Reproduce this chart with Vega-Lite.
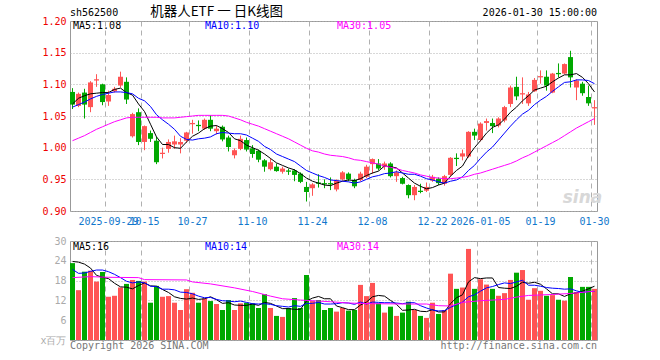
{
"$schema":"https://vega.github.io/schema/vega-lite/v6.json",
"autosize":{"type":"pad"},
"padding":{"left":39,"top":4,"right":5,"bottom":5},
"background":"white",
"bounds":"flush",
"spacing":30,
"config":{
 "view":{"stroke":"#999999","strokeWidth":1},
 "axis":{"labelFont":"DejaVu Sans Mono","labelFontSize":10,"ticks":false,"domain":false,"gridColor":"#b0b0b0","gridOpacity":1,"labelPadding":4,"labelOverlap":false},
 "text":{"font":"DejaVu Sans Mono","fontSize":10,"baseline":"middle"}
},
"datasets":{
"k":[
{"d":"2025-09-19","o":1.088,"h":1.094,"l":1.061,"c":1.068,"v":23.3,"m5":1.069,"m10":1.064,"m30":1.011,"v5":23.8,"v10":21.4,"v30":18.9},
{"d":"2025-09-22","o":1.066,"h":1.087,"l":1.064,"c":1.085,"v":15.1,"m5":1.078,"m10":1.068,"m30":1.015,"v5":23.6,"v10":20.2},
{"d":"2025-09-23","o":1.087,"h":1.093,"l":1.046,"c":1.068,"v":20.7,"m5":1.082,"m10":1.072,"m30":1.019,"v5":23.0,"v10":20.3},
{"d":"2025-09-24","o":1.064,"h":1.105,"l":1.056,"c":1.103,"v":21.0,"m5":1.085,"m10":1.077,"m30":1.024,"v5":21.8,"v10":20.8,"v30":19.2},
{"d":"2025-09-25","o":1.106,"h":1.116,"l":1.096,"c":1.108,"v":17.7,"m5":1.086,"m10":1.081,"m30":1.029,"v5":19.6,"v10":21.2},
{"d":"2025-09-26","o":1.100,"h":1.101,"l":1.067,"c":1.072,"v":20.6,"m5":1.087,"m10":1.084,"m30":1.033,"v5":19.0,"v10":21.2},
{"d":"2025-09-29","o":1.073,"h":1.090,"l":1.066,"c":1.083,"v":13.1,"m5":1.087,"m10":1.086,"m30":1.037,"v5":18.6,"v10":20.7,"v30":19.0},
{"d":"2025-09-30","o":1.089,"h":1.096,"l":1.087,"c":1.093,"v":13.4,"m5":1.092,"m10":1.088,"m30":1.041,"v5":17.2,"v10":19.9},
{"d":"2025-10-09","o":1.098,"h":1.120,"l":1.095,"c":1.112,"v":15.9,"m5":1.094,"m10":1.088,"m30":1.044,"v5":16.1,"v10":18.9},
{"d":"2025-10-10","o":1.104,"h":1.111,"l":1.069,"c":1.076,"v":17.0,"m5":1.087,"m10":1.087,"m30":1.047,"v5":16.0,"v10":17.8},
{"d":"2025-10-13","o":1.018,"h":1.055,"l":1.016,"c":1.053,"v":18.2,"m5":1.083,"m10":1.085,"m30":1.048,"v5":15.5,"v10":17.3},
{"d":"2025-10-14","o":1.056,"h":1.062,"l":1.004,"c":1.009,"v":17.9,"m5":1.069,"m10":1.078,"m30":1.048,"v5":16.5,"v10":17.6,"v30":18.9},
{"d":"2025-10-15","o":1.009,"h":1.035,"l":0.996,"c":1.034,"v":17.7,"m5":1.057,"m10":1.074,"m30":1.048,"v5":17.3,"v10":17.3,"v30":18.3},
{"d":"2025-10-16","o":1.023,"h":1.027,"l":1.009,"c":1.014,"v":11.3,"m5":1.037,"m10":1.065,"m30":1.048,"v5":16.4,"v10":16.3},
{"d":"2025-10-17","o":1.011,"h":1.017,"l":0.974,"c":0.977,"v":16.4,"m5":1.017,"m10":1.052,"m30":1.048,"v5":16.3,"v10":16.2},
{"d":"2025-10-20","o":0.990,"h":1.000,"l":0.983,"c":0.992,"v":13.1,"m5":1.005,"m10":1.044,"m30":1.047,"v5":15.3,"v10":15.4},
{"d":"2025-10-21","o":0.998,"h":1.013,"l":0.992,"c":1.009,"v":13.3,"m5":1.005,"m10":1.037,"m30":1.047,"v5":14.4,"v10":15.4},
{"d":"2025-10-22","o":1.005,"h":1.019,"l":0.998,"c":1.010,"v":11.3,"m5":1.000,"m10":1.029,"m30":1.047,"v5":13.1,"v10":15.2},
{"d":"2025-10-23","o":1.005,"h":1.015,"l":0.991,"c":1.009,"v":9.1,"m5":0.999,"m10":1.018,"m30":1.048,"v5":12.6,"v10":14.5},
{"d":"2025-10-24","o":1.011,"h":1.025,"l":1.008,"c":1.024,"v":15.4,"m5":1.009,"m10":1.013,"m30":1.049,"v5":12.4,"v10":14.4,"v30":18.2},
{"d":"2025-10-27","o":1.037,"h":1.044,"l":1.022,"c":1.039,"v":14.3,"m5":1.018,"m10":1.012,"m30":1.050,"v5":12.7,"v10":14.0,"v30":17.6},
{"d":"2025-10-28","o":1.036,"h":1.043,"l":1.026,"c":1.034,"v":11.3,"m5":1.023,"m10":1.014,"m30":1.051,"v5":12.3,"v10":13.3},
{"d":"2025-10-29","o":1.030,"h":1.046,"l":1.028,"c":1.044,"v":12.6,"m5":1.030,"m10":1.015,"m30":1.051,"v5":12.5,"v10":12.8},
{"d":"2025-10-30","o":1.044,"h":1.051,"l":1.026,"c":1.030,"v":11.8,"m5":1.034,"m10":1.017,"m30":1.051,"v5":13.1,"v10":12.9,"v30":17.0},
{"d":"2025-10-31","o":1.026,"h":1.035,"l":1.021,"c":1.030,"v":10.9,"m5":1.035,"m10":1.022,"m30":1.051,"v5":12.2,"v10":12.3},
{"d":"2025-11-03","o":1.033,"h":1.035,"l":1.010,"c":1.013,"v":9.1,"m5":1.030,"m10":1.024,"m30":1.051,"v5":11.1,"v10":11.9},
{"d":"2025-11-04","o":1.016,"h":1.019,"l":0.994,"c":1.001,"v":12.1,"m5":1.024,"m10":1.023,"m30":1.050,"v5":11.3,"v10":11.8},
{"d":"2025-11-05","o":0.988,"h":0.999,"l":0.983,"c":0.996,"v":9.1,"m5":1.014,"m10":1.022,"m30":1.047,"v5":10.6,"v10":11.6,"v30":15.8},
{"d":"2025-11-06","o":0.998,"h":1.019,"l":0.996,"c":1.014,"v":11.1,"m5":1.011,"m10":1.022,"m30":1.044,"v5":10.5,"v10":11.8},
{"d":"2025-11-07","o":1.012,"h":1.016,"l":0.994,"c":0.997,"v":11.3,"m5":1.004,"m10":1.020,"m30":1.040,"v5":10.5,"v10":11.4},
{"d":"2025-11-10","o":0.999,"h":1.004,"l":0.984,"c":0.990,"v":11.1,"m5":1.000,"m10":1.015,"m30":1.037,"v5":10.9,"v10":11.0,"v30":14.7},
{"d":"2025-11-11","o":0.995,"h":0.997,"l":0.977,"c":0.981,"v":9.7,"m5":0.996,"m10":1.010,"m30":1.034,"v5":10.5,"v10":10.9},
{"d":"2025-11-12","o":0.980,"h":0.982,"l":0.962,"c":0.970,"v":13.9,"m5":0.990,"m10":1.002,"m30":1.030,"v5":11.4,"v10":11.0},
{"d":"2025-11-13","o":0.966,"h":0.983,"l":0.964,"c":0.977,"v":9.7,"m5":0.983,"m10":0.997,"m30":1.026,"v5":11.1,"v10":10.8,"v30":13.3},
{"d":"2025-11-14","o":0.970,"h":0.975,"l":0.962,"c":0.963,"v":7.3,"m5":0.976,"m10":0.990,"m30":1.022,"v5":10.3,"v10":10.4},
{"d":"2025-11-17","o":0.962,"h":0.970,"l":0.959,"c":0.967,"v":7.0,"m5":0.972,"m10":0.986,"m30":1.018,"v5":9.5,"v10":10.2,"v30":12.5},
{"d":"2025-11-18","o":0.964,"h":0.967,"l":0.957,"c":0.962,"v":9.7,"m5":0.968,"m10":0.982,"m30":1.014,"v5":9.5,"v10":10.0},
{"d":"2025-11-19","o":0.964,"h":0.966,"l":0.947,"c":0.957,"v":12.7,"m5":0.965,"m10":0.978,"m30":1.009,"v5":9.3,"v10":10.4},
{"d":"2025-11-20","o":0.959,"h":0.961,"l":0.944,"c":0.946,"v":9.7,"m5":0.959,"m10":0.971,"m30":1.004,"v5":9.3,"v10":10.2,"v30":12.1},
{"d":"2025-11-21","o":0.938,"h":0.946,"l":0.915,"c":0.930,"v":19.7,"m5":0.952,"m10":0.964,"m30":0.999,"v5":11.8,"v10":11.1},
{"d":"2025-11-24","o":0.936,"h":0.944,"l":0.924,"c":0.942,"v":11.8,"m5":0.947,"m10":0.960,"m30":0.995,"v5":12.7,"v10":11.1},
{"d":"2025-11-25","o":0.945,"h":0.958,"l":0.937,"c":0.943,"v":12.1,"m5":0.944,"m10":0.956,"m30":0.993,"v5":13.2,"v10":11.4},
{"d":"2025-11-26","o":0.944,"h":0.950,"l":0.936,"c":0.942,"v":9.1,"m5":0.941,"m10":0.953,"m30":0.990,"v5":12.5,"v10":10.9},
{"d":"2025-11-27","o":0.944,"h":0.953,"l":0.933,"c":0.942,"v":9.7,"m5":0.940,"m10":0.949,"m30":0.988,"v5":12.5,"v10":10.9,"v30":11.6},
{"d":"2025-11-28","o":0.934,"h":0.950,"l":0.931,"c":0.948,"v":8.6,"m5":0.944,"m10":0.948,"m30":0.987,"v5":10.3,"v10":11.0},
{"d":"2025-12-01","o":0.950,"h":0.963,"l":0.948,"c":0.961,"v":9.7,"m5":0.947,"m10":0.947,"m30":0.986,"v5":9.8,"v10":11.3},
{"d":"2025-12-02","o":0.959,"h":0.961,"l":0.947,"c":0.950,"v":8.9,"m5":0.949,"m10":0.946,"m30":0.984,"v5":9.2,"v10":11.2,"v30":11.2},
{"d":"2025-12-03","o":0.949,"h":0.951,"l":0.936,"c":0.939,"v":9.1,"m5":0.948,"m10":0.944,"m30":0.981,"v5":9.2,"v10":10.8},
{"d":"2025-12-04","o":0.949,"h":0.962,"l":0.947,"c":0.959,"v":16.7,"m5":0.951,"m10":0.946,"m30":0.980,"v5":10.6,"v10":11.5},
{"d":"2025-12-05","o":0.954,"h":0.973,"l":0.952,"c":0.970,"v":13.3,"m5":0.956,"m10":0.950,"m30":0.978,"v5":11.5,"v10":10.9},
{"d":"2025-12-08","o":0.974,"h":0.983,"l":0.959,"c":0.982,"v":17.3,"m5":0.960,"m10":0.954,"m30":0.976,"v5":13.1,"v10":11.5,"v30":11.0},
{"d":"2025-12-09","o":0.975,"h":0.982,"l":0.964,"c":0.967,"v":11.1,"m5":0.963,"m10":0.956,"m30":0.974,"v5":13.5,"v10":11.4},
{"d":"2025-12-10","o":0.970,"h":0.978,"l":0.965,"c":0.975,"v":8.3,"m5":0.971,"m10":0.959,"m30":0.971,"v5":13.3,"v10":11.3},
{"d":"2025-12-11","o":0.975,"h":0.977,"l":0.953,"c":0.955,"v":10.1,"m5":0.970,"m10":0.960,"m30":0.969,"v5":12.0,"v10":11.3},
{"d":"2025-12-12","o":0.955,"h":0.964,"l":0.946,"c":0.961,"v":7.3,"m5":0.968,"m10":0.962,"m30":0.967,"v5":10.8,"v10":11.2},
{"d":"2025-12-15","o":0.952,"h":0.954,"l":0.942,"c":0.943,"v":8.3,"m5":0.960,"m10":0.960,"m30":0.964,"v5":9.0,"v10":11.0},
{"d":"2025-12-16","o":0.941,"h":0.942,"l":0.920,"c":0.925,"v":11.6,"m5":0.952,"m10":0.958,"m30":0.962,"v5":9.1,"v10":11.3,"v30":10.9},
{"d":"2025-12-17","o":0.925,"h":0.941,"l":0.917,"c":0.938,"v":9.1,"m5":0.944,"m10":0.958,"m30":0.960,"v5":9.3,"v10":11.3},
{"d":"2025-12-18","o":0.932,"h":0.943,"l":0.928,"c":0.930,"v":7.3,"m5":0.939,"m10":0.955,"m30":0.957,"v5":8.7,"v10":10.4},
{"d":"2025-12-19","o":0.932,"h":0.945,"l":0.930,"c":0.938,"v":6.7,"m5":0.935,"m10":0.951,"m30":0.955,"v5":8.6,"v10":9.7,"v30":10.9},
{"d":"2025-12-22","o":0.948,"h":0.957,"l":0.946,"c":0.954,"v":11.3,"m5":0.937,"m10":0.949,"m30":0.953,"v5":9.2,"v10":9.1},
{"d":"2025-12-23","o":0.951,"h":0.953,"l":0.941,"c":0.944,"v":7.9,"m5":0.941,"m10":0.946,"m30":0.952,"v5":8.5,"v10":8.8,"v30":10.4},
{"d":"2025-12-24","o":0.943,"h":0.957,"l":0.940,"c":0.955,"v":9.1,"m5":0.944,"m10":0.944,"m30":0.951,"v5":8.5,"v10":8.9},
{"d":"2025-12-25","o":0.957,"h":0.985,"l":0.955,"c":0.984,"v":20.1,"m5":0.955,"m10":0.947,"m30":0.951,"v5":11.0,"v10":9.9,"v30":10.3},
{"d":"2025-12-26","o":0.984,"h":0.991,"l":0.971,"c":0.982,"v":15.5,"m5":0.964,"m10":0.949,"m30":0.952,"v5":12.8,"v10":10.7},
{"d":"2025-12-29","o":0.986,"h":0.997,"l":0.980,"c":0.991,"v":15.9,"m5":0.971,"m10":0.954,"m30":0.953,"v5":13.7,"v10":11.5,"v30":11.4},
{"d":"2025-12-30","o":0.986,"h":1.026,"l":0.984,"c":1.025,"v":27.6,"m5":0.987,"m10":0.964,"m30":0.955,"v5":17.6,"v10":13.1},
{"d":"2025-12-31","o":1.025,"h":1.030,"l":1.012,"c":1.019,"v":15.5,"m5":1.000,"m10":0.972,"m30":0.958,"v5":18.9,"v10":13.7},
{"d":"2026-01-05","o":1.012,"h":1.040,"l":1.010,"c":1.038,"v":18.4,"m5":1.011,"m10":0.983,"m30":0.960,"v5":18.6,"v10":14.8,"v30":11.9},
{"d":"2026-01-06","o":1.039,"h":1.046,"l":1.027,"c":1.042,"v":16.8,"m5":1.023,"m10":0.993,"m30":0.963,"v5":18.8,"v10":15.8},
{"d":"2026-01-07","o":1.039,"h":1.046,"l":1.023,"c":1.034,"v":15.5,"m5":1.032,"m10":1.001,"m30":0.966,"v5":18.8,"v10":16.2},
{"d":"2026-01-08","o":1.035,"h":1.048,"l":1.032,"c":1.046,"v":13.4,"m5":1.036,"m10":1.012,"m30":0.969,"v5":15.9,"v10":16.8},
{"d":"2026-01-09","o":1.043,"h":1.066,"l":1.040,"c":1.064,"v":14.2,"m5":1.045,"m10":1.023,"m30":0.972,"v5":15.7,"v10":17.3,"v30":12.3},
{"d":"2026-01-12","o":1.069,"h":1.098,"l":1.064,"c":1.095,"v":18.2,"m5":1.056,"m10":1.034,"m30":0.975,"v5":15.6,"v10":17.1},
{"d":"2026-01-13","o":1.096,"h":1.112,"l":1.075,"c":1.081,"v":20.4,"m5":1.064,"m10":1.044,"m30":0.979,"v5":16.3,"v10":17.6,"v30":13.0},
{"d":"2026-01-14","o":1.084,"h":1.111,"l":1.069,"c":1.086,"v":21.2,"m5":1.074,"m10":1.053,"m30":0.984,"v5":17.5,"v10":18.1},
{"d":"2026-01-15","o":1.070,"h":1.088,"l":1.066,"c":1.084,"v":12.2,"m5":1.082,"m10":1.059,"m30":0.988,"v5":17.2,"v10":16.6,"v30":13.5},
{"d":"2026-01-16","o":1.089,"h":1.110,"l":1.088,"c":1.107,"v":15.7,"m5":1.091,"m10":1.068,"m30":0.993,"v5":17.5,"v10":16.6},
{"d":"2026-01-19","o":1.111,"h":1.122,"l":1.101,"c":1.113,"v":14.9,"m5":1.094,"m10":1.075,"m30":0.998,"v5":16.9,"v10":16.3},
{"d":"2026-01-20","o":1.112,"h":1.122,"l":1.090,"c":1.098,"v":13.4,"m5":1.097,"m10":1.081,"m30":1.003,"v5":15.5,"v10":15.9},
{"d":"2026-01-21","o":1.087,"h":1.118,"l":1.086,"c":1.117,"v":13.6,"m5":1.104,"m10":1.089,"m30":1.008,"v5":14.0,"v10":15.7,"v30":13.8},
{"d":"2026-01-22","o":1.118,"h":1.133,"l":1.111,"c":1.116,"v":12.2,"m5":1.110,"m10":1.096,"m30":1.013,"v5":14.0,"v10":15.6},
{"d":"2026-01-23","o":1.117,"h":1.133,"l":1.116,"c":1.132,"v":11.9,"m5":1.115,"m10":1.103,"m30":1.019,"v5":13.2,"v10":15.4},
{"d":"2026-01-26","o":1.143,"h":1.153,"l":1.095,"c":1.111,"v":19.1,"m5":1.115,"m10":1.104,"m30":1.025,"v5":14.0,"v10":15.5,"v30":14.1},
{"d":"2026-01-27","o":1.095,"h":1.108,"l":1.075,"c":1.106,"v":14.5,"m5":1.117,"m10":1.107,"m30":1.031,"v5":14.3,"v10":14.9},
{"d":"2026-01-28","o":1.101,"h":1.104,"l":1.082,"c":1.086,"v":16.1,"m5":1.111,"m10":1.107,"m30":1.036,"v5":14.8,"v10":14.4},
{"d":"2026-01-29","o":1.080,"h":1.098,"l":1.066,"c":1.070,"v":16.1,"m5":1.101,"m10":1.106,"m30":1.041,"v5":15.5,"v10":14.7},
{"d":"2026-01-30","o":1.062,"h":1.075,"l":1.036,"c":1.064,"v":15.5,"m5":1.088,"m10":1.101,"m30":1.046,"v5":16.3,"v10":14.7,"v30":14.8}
],
"lp":[
{"t":"sh562500","d":"2025-09-19","p":1.2126,"k":"blk","a":"l0"},
{"t":"MA5:1.08","d":"2025-09-19","p":1.1916,"k":"blk","a":"l"},
{"t":"MA10:1.10","d":"2025-10-29","p":1.1916,"k":"blue","a":"l"},
{"t":"MA30:1.05","d":"2025-11-28","p":1.1916,"k":"mag","a":"l"},
{"t":"2026-01-30 15:00:00","d":"2026-01-30","p":1.2134,"k":"blk","a":"r"},
{"t":"机器人ETF 一 日K线图","d":"2025-10-31","p":1.2137,"k":"blk","a":"c"},
{"t":"sina","d":"2026-01-28","p":0.9205,"k":"wm","a":"w"}
],
"lv":[
{"t":"MA5:16","d":"2025-09-19","p":28.3,"k":"blk","a":"l"},
{"t":"MA10:14","d":"2025-10-29","p":28.3,"k":"blue","a":"l"},
{"t":"MA30:14","d":"2025-11-28","p":28.3,"k":"mag","a":"l"},
{"t":"Copyright 2026 SINA.COM","d":"2025-09-19","p":-1.8,"k":"gray","a":"l0"},
{"t":"http://finance.sina.com.cn","d":"2026-01-30","p":-1.8,"k":"gray","a":"r"}
]
},
"vconcat":[
{
 "width":527,"height":190,
 "layer":[
  {"data":{"name":"k"},"mark":{"type":"rule","strokeWidth":1},
   "encoding":{
    "x":{"field":"d","type":"ordinal","scale":{"paddingInner":0.165,"paddingOuter":0},
      "axis":{"values":["2025-09-29","2025-10-15","2025-10-27","2025-11-10","2025-11-24","2025-12-08","2025-12-22","2026-01-05","2026-01-19","2026-01-30"],
        "bandPosition":0,"labelAngle":0,"labelOverlap":false,"labelColor":"#1177cc","labelPadding":5,"labelBaseline":"top",
        "labelExpr":"(datum.value=='2025-09-29'||datum.value=='2026-01-05') ? datum.value : slice(datum.value,5)",
        "grid":true,"gridDash":[5,4],"title":null}},
    "y":{"field":"l","type":"quantitative","scale":{"domain":[0.9,1.2],"zero":false,"nice":false},
      "axis":{"values":[0.9,0.95,1.0,1.05,1.1,1.15,1.2],"tickCount":20,"format":".2f","labelColor":"#ee0000","grid":true,"gridDash":[1,2],"title":null}},
    "y2":{"field":"h"},
    "color":{"condition":{"test":"datum.c >= datum.o","value":"#ff5454"},"value":"#00a800"}}},
  {"data":{"name":"k"},"mark":{"type":"bar"},
   "encoding":{"x":{"field":"d","type":"ordinal"},"y":{"field":"o","type":"quantitative"},"y2":{"field":"c"},
    "color":{"condition":{"test":"datum.c >= datum.o","value":"#ff5454"},"value":"#00a800"}}},
  {"data":{"name":"k"},"mark":{"type":"line","color":"#000000","strokeWidth":1},
   "encoding":{"x":{"field":"d","type":"ordinal"},"y":{"field":"m5","type":"quantitative"}}},
  {"data":{"name":"k"},"mark":{"type":"line","color":"#0000ff","strokeWidth":1},
   "encoding":{"x":{"field":"d","type":"ordinal"},"y":{"field":"m10","type":"quantitative"}}},
  {"data":{"name":"k"},"mark":{"type":"line","color":"#ff00ff","strokeWidth":1},
   "encoding":{"x":{"field":"d","type":"ordinal"},"y":{"field":"m30","type":"quantitative"}}},
  {"data":{"name":"lp"},"transform":[{"filter":"datum.a=='l0'"}],"mark":{"type":"text","align":"left"},
   "encoding":{"x":{"field":"d","type":"ordinal","bandPosition":0},"y":{"field":"p","type":"quantitative"},"text":{"field":"t"},
    "color":{"field":"k","type":"nominal","scale":{"domain":["blk","blue","mag","gray","wm"],"range":["#000000","#0000ff","#ff00ff","#777777","#d8d8d8"]},"legend":null}}},
  {"data":{"name":"lp"},"transform":[{"filter":"datum.a=='l'"}],"mark":{"type":"text","align":"left","dx":3},
   "encoding":{"x":{"field":"d","type":"ordinal","bandPosition":0},"y":{"field":"p","type":"quantitative"},"text":{"field":"t"},
    "color":{"field":"k","type":"nominal","legend":null}}},
  {"data":{"name":"lp"},"transform":[{"filter":"datum.a=='r'"}],"mark":{"type":"text","align":"right"},
   "encoding":{"x":{"field":"d","type":"ordinal","bandPosition":1},"y":{"field":"p","type":"quantitative"},"text":{"field":"t"},
    "color":{"field":"k","type":"nominal","legend":null}}},
  {"data":{"name":"lp"},"transform":[{"filter":"datum.a=='c'"}],"mark":{"type":"text","align":"center","font":"Noto Sans CJK SC","fontSize":13.5},
   "encoding":{"x":{"field":"d","type":"ordinal"},"y":{"field":"p","type":"quantitative"},"text":{"field":"t"},
    "color":{"field":"k","type":"nominal","legend":null}}},
  {"data":{"name":"lp"},"transform":[{"filter":"datum.a=='w'"}],"mark":{"type":"text","align":"center","font":"DejaVu Sans","fontSize":17,"fontWeight":"bold","fontStyle":"italic"},
   "encoding":{"x":{"field":"d","type":"ordinal"},"y":{"field":"p","type":"quantitative"},"text":{"field":"t"},
    "color":{"field":"k","type":"nominal","legend":null}}}
 ]
},
{
 "width":527,"height":99,
 "layer":[
  {"data":{"name":"k"},"mark":{"type":"bar"},
   "encoding":{
    "x":{"field":"d","type":"ordinal","scale":{"paddingInner":0.165,"paddingOuter":0},
      "axis":{"values":["2025-09-29","2025-10-15","2025-10-27","2025-11-10","2025-11-24","2025-12-08","2025-12-22","2026-01-05","2026-01-19","2026-01-30"],
        "bandPosition":0,"labels":false,"grid":true,"gridDash":[5,4],"title":null}},
    "y":{"field":"v","type":"quantitative","scale":{"domain":[0,30],"nice":false},
      "axis":{"values":[0,6,12,18,24,30],"tickCount":20,"labelExpr":"datum.value == 0 ? 'x百万' : datum.label","labelColor":"#aaaaaa","grid":true,"gridDash":[1,2],"title":null}},
    "color":{"condition":{"test":"datum.c >= datum.o","value":"#ff5454"},"value":"#00a800"}}},
  {"data":{"name":"k"},"mark":{"type":"line","color":"#000000","strokeWidth":1},
   "encoding":{"x":{"field":"d","type":"ordinal"},"y":{"field":"v5","type":"quantitative"}}},
  {"data":{"name":"k"},"mark":{"type":"line","color":"#0000ff","strokeWidth":1},
   "encoding":{"x":{"field":"d","type":"ordinal"},"y":{"field":"v10","type":"quantitative"}}},
  {"data":{"name":"k"},"transform":[{"filter":"isValid(datum.v30)"}],"mark":{"type":"line","color":"#ff00ff","strokeWidth":1},
   "encoding":{"x":{"field":"d","type":"ordinal"},"y":{"field":"v30","type":"quantitative"}}},
  {"data":{"name":"lv"},"transform":[{"filter":"datum.a=='l0'"}],"mark":{"type":"text","align":"left"},
   "encoding":{"x":{"field":"d","type":"ordinal","bandPosition":0},"y":{"field":"p","type":"quantitative"},"text":{"field":"t"},
    "color":{"field":"k","type":"nominal","scale":{"domain":["blk","blue","mag","gray"],"range":["#000000","#0000ff","#ff00ff","#777777"]},"legend":null}}},
  {"data":{"name":"lv"},"transform":[{"filter":"datum.a=='l'"}],"mark":{"type":"text","align":"left","dx":3},
   "encoding":{"x":{"field":"d","type":"ordinal","bandPosition":0},"y":{"field":"p","type":"quantitative"},"text":{"field":"t"},
    "color":{"field":"k","type":"nominal","legend":null}}},
  {"data":{"name":"lv"},"transform":[{"filter":"datum.a=='r'"}],"mark":{"type":"text","align":"right"},
   "encoding":{"x":{"field":"d","type":"ordinal","bandPosition":1},"y":{"field":"p","type":"quantitative"},"text":{"field":"t"},
    "color":{"field":"k","type":"nominal","legend":null}}}
 ]
}
]
}
